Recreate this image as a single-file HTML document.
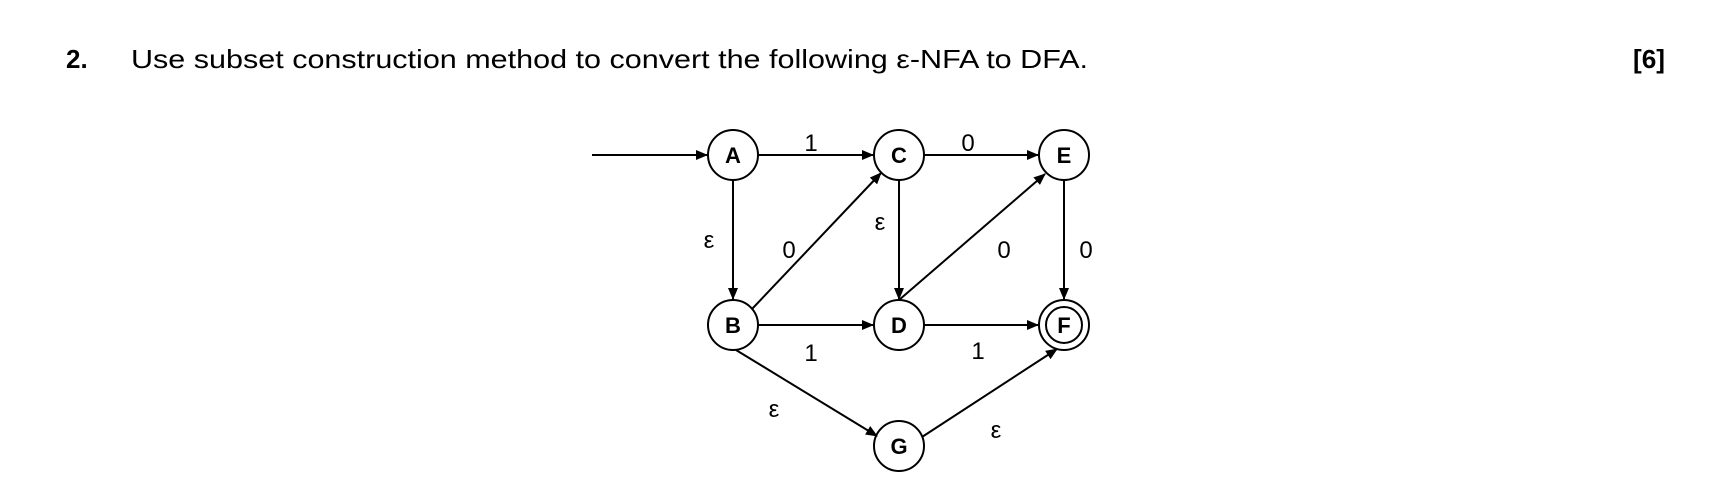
<!DOCTYPE html>
<html><head><meta charset="utf-8"><style>
html,body{margin:0;padding:0;background:#fff;}
svg{display:block;font-family:"Liberation Sans",sans-serif;}
</style></head><body>
<svg width="1718" height="488" viewBox="0 0 1718 488" xmlns="http://www.w3.org/2000/svg">
<defs><marker id="ar" markerWidth="12" markerHeight="10" refX="11" refY="5" orient="auto" markerUnits="userSpaceOnUse"><path d="M0,0 L12,5 L0,10 Z" fill="#000"/></marker></defs>
<text x="66" y="68" font-size="26" font-weight="bold" fill="#000">2.</text>
<text x="131" y="68" font-size="26" fill="#000" textLength="957" lengthAdjust="spacingAndGlyphs">Use subset construction method to convert the following ε-NFA to DFA.</text>
<text x="1633" y="68" font-size="26" font-weight="bold" fill="#000" textLength="32" lengthAdjust="spacingAndGlyphs">[6]</text>
<g stroke="#000" stroke-width="2" fill="none">
<line x1="592" y1="155" x2="707" y2="155" marker-end="url(#ar)"/>
<line x1="758" y1="155" x2="873" y2="155" marker-end="url(#ar)"/>
<line x1="924" y1="155" x2="1038" y2="155" marker-end="url(#ar)"/>
<line x1="733" y1="180" x2="733" y2="299" marker-end="url(#ar)"/>
<line x1="899" y1="180" x2="899" y2="299" marker-end="url(#ar)"/>
<line x1="1064" y1="180" x2="1064" y2="299" marker-end="url(#ar)"/>
<line x1="758" y1="325" x2="873" y2="325" marker-end="url(#ar)"/>
<line x1="924" y1="325" x2="1038" y2="325" marker-end="url(#ar)"/>
<line x1="752" y1="309" x2="881" y2="173" marker-end="url(#ar)"/>
<line x1="899" y1="300" x2="1045" y2="174" marker-end="url(#ar)"/>
<line x1="736" y1="350" x2="877" y2="436" marker-end="url(#ar)"/>
<line x1="922" y1="437" x2="1057" y2="349" marker-end="url(#ar)"/>
<circle cx="733" cy="155" r="25"/><circle cx="899" cy="155" r="25"/><circle cx="1064" cy="155" r="25"/>
<circle cx="733" cy="325" r="25"/><circle cx="899" cy="325" r="25"/><circle cx="1064" cy="325" r="25"/>
<circle cx="1064" cy="325" r="18"/><circle cx="899" cy="446" r="25"/>
</g>
<g font-size="22" font-weight="bold" text-anchor="middle" fill="#000">
<text x="733" y="163">A</text><text x="899" y="163">C</text><text x="1064" y="163">E</text>
<text x="733" y="333">B</text><text x="899" y="333">D</text><text x="1064" y="333">F</text>
<text x="899" y="454">G</text>
</g>
<g font-size="24" text-anchor="middle" fill="#000">
<text x="811" y="151">1</text><text x="968" y="151">0</text>
<text x="709" y="248">ε</text><text x="789" y="258">0</text>
<text x="880" y="230">ε</text><text x="1004" y="258">0</text><text x="1086" y="258">0</text>
<text x="811" y="361">1</text><text x="978" y="359">1</text>
<text x="774" y="417">ε</text><text x="996" y="438">ε</text>
</g>
</svg>
</body></html>
